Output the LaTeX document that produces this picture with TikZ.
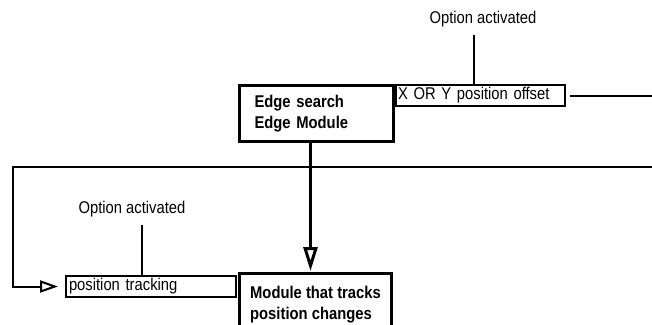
\documentclass[tikz,border=0pt]{standalone}
\usepackage{fontspec}
\setmainfont[FakeStretch=0.87]{Liberation Sans}
\usetikzlibrary{arrows.meta, positioning}

\begin{document}
\begin{tikzpicture}[x=1pt,y=-1pt,semithick]
	\tikzstyle{every node}=[font=\fontsize{17}{21}\selectfont]
	\tikzstyle{bigbox}=[rectangle, draw, line width=3pt, anchor=north west, align=left, font=\fontsize{17}{21}\selectfont\bfseries]
	\tikzstyle{smallbox}=[rectangle, draw, line width=2pt, anchor=north west, align=left, inner ysep=0pt, minimum height=21pt]
	\tikzstyle{wire}=[line width=2pt]
	\tikzstyle{openarrow}=[-{Triangle[open, length=18pt, width=12pt]}]
	
	\useasboundingbox (0,0) rectangle (652,324);
	
	\node[bigbox, text width=124pt, inner xsep=15pt, minimum height=56pt] (1) at (238,84) {Edge search\\Edge Module};
	\node[smallbox, text width=165pt, inner xsep=2pt] (2) at (1.north east) {X OR Y position offset};
	\node (3) at (483,19) {Option activated};
	\node[bigbox, minimum width=152pt, minimum height=63pt] (6) at (238,272) {Module that tracks\\position changes};
	\node[smallbox, text width=164pt, inner xsep=3pt, anchor=north east] (4) at (237,275) {position tracking};
	\node (5) at (132,209) {Option activated};
	
	\coordinate (r2) at (652,167);
	\coordinate (c1) at (13,167);
	
	\draw[wire, shorten <=4pt] ([xshift=-6.5pt]2.north |- 3.south) -- ([xshift=-6.5pt]2.north);
	\draw[wire, shorten <=4pt] (2.east) -- (2.east -| r2);
	\draw[wire, openarrow, shorten >=7pt] (r2) -- (c1) |- (4.west);
	\draw[wire, shorten <=4pt] ([xshift=-9pt]4.north |- 5.south) -- ([xshift=-9pt]4.north);
	\draw[line width=3pt, -{Triangle[open, length=24pt, width=14pt]}, shorten >=1pt] ([xshift=-6pt]1.south) -- ([xshift=-6pt]1.south |- 6.north);
	
\end{tikzpicture}
\end{document}
